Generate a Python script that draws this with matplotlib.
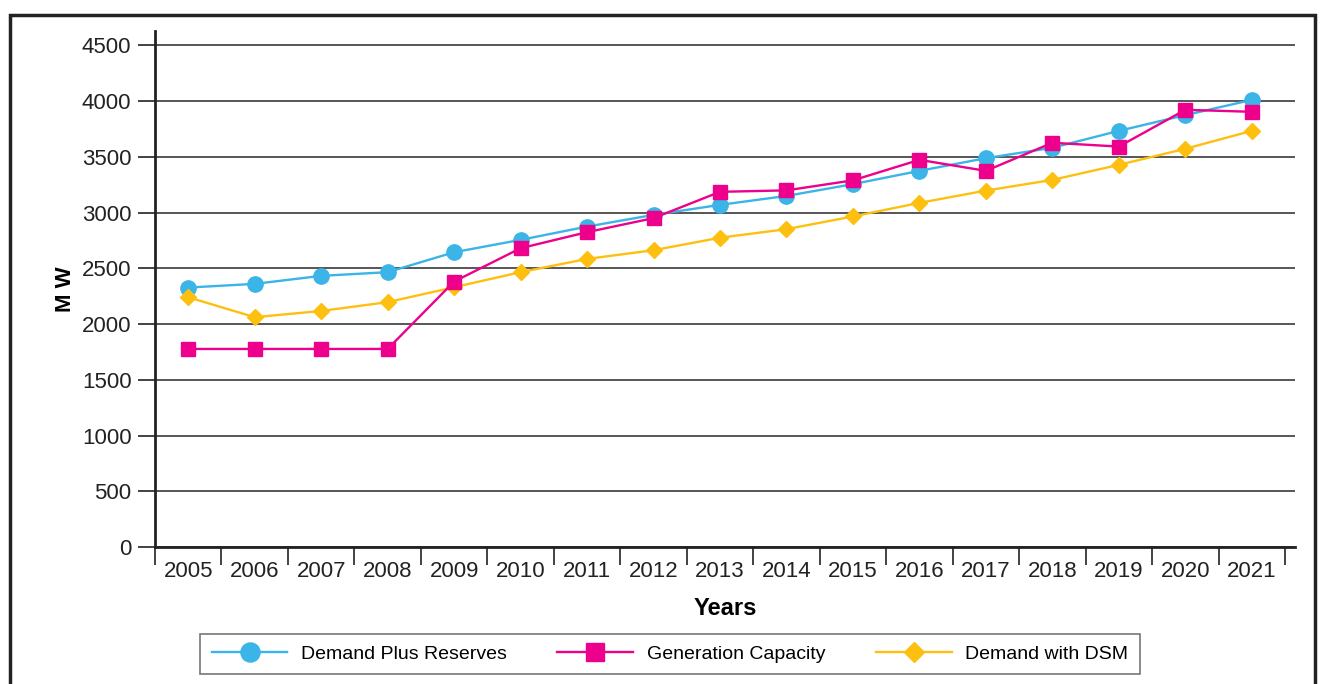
import numpy as np
import matplotlib
matplotlib.use("Agg")
import matplotlib.pyplot as plt
from matplotlib.patches import Rectangle

plt.rcParams['font.family'] = ['Liberation Sans Narrow', 'Liberation Sans', 'DejaVu Sans']

years = [str(y) for y in range(2005, 2022)]
demand_plus_reserves = [2328, 2361, 2433, 2466, 2645, 2756, 2875, 2980, 3070, 3150,
                        3256, 3375, 3489, 3582, 3734, 3875, 4012]
generation_capacity = [1777, 1777, 1777, 1777, 2382, 2681, 2825, 2951, 3187, 3200,
                       3290, 3474, 3375, 3627, 3593, 3923, 3905]
demand_with_dsm = [2241, 2062, 2118, 2197, 2331, 2466, 2585, 2663, 2775, 2852,
                   2966, 3088, 3198, 3294, 3429, 3573, 3734]

fig = plt.figure(figsize=(13.2, 6.84), dpi=100)
ax = fig.add_axes([155/1320, 1 - 547/684, 1140/1320, 516/684])

x = np.arange(len(years))
ax.plot(x, demand_plus_reserves, color='#3BB4E7', lw=1.7, marker='o', ms=11,
        label='Demand Plus Reserves', zorder=3)
ax.plot(x, generation_capacity, color='#EC008C', lw=1.7, marker='s', ms=10,
        label='Generation Capacity', zorder=4)
ax.plot(x, demand_with_dsm, color='#FDC010', lw=1.7, marker='D', ms=8.5,
        label='Demand with DSM', zorder=3)

ax.set_xlim(-0.5, 16.65)
ax.set_ylim(0, 4630)
ax.set_yticks(np.arange(0, 4501, 500))
ax.yaxis.grid(True, color='#3a3a3a', lw=1.2)
ax.set_axisbelow(True)

# ticks sit between the years, labels in the middle
ax.set_xticks(np.arange(-0.5, 17, 1))
ax.set_xticklabels([])
ax.set_xticks(x, minor=True)
ax.set_xticklabels(years, minor=True)
ax.tick_params(axis='x', which='major', length=13, width=1.2, color='#222')
ax.tick_params(axis='x', which='minor', length=0, labelsize=16, pad=10, colors='#222')
ax.tick_params(axis='y', length=12, width=1.2, labelsize=16, pad=5, colors='#222')

for s in ['top', 'right']:
    ax.spines[s].set_visible(False)
ax.spines['left'].set_linewidth(2)
ax.spines['bottom'].set_linewidth(2)
ax.spines['left'].set_color('#222')
ax.spines['bottom'].set_color('#222')

ax.set_xlabel('Years', fontsize=17, fontweight='bold', labelpad=11,
              family=['Liberation Sans', 'DejaVu Sans'])
ax.set_ylabel('M W', fontsize=16, fontweight='bold', labelpad=4,
              family=['Liberation Sans', 'DejaVu Sans'])

leg = fig.legend(loc='center', bbox_to_anchor=(670/1320, 1 - 654/684), ncol=3,
                 fontsize=14, frameon=True, fancybox=False, edgecolor='#555',
                 handlelength=3.9, columnspacing=2.6, handletextpad=0.7,
                 borderpad=0.6, borderaxespad=0, markerscale=1.25)
leg.get_frame().set_linewidth(1.2)

fig.patches.append(Rectangle((10/1320, -0.1), (1315 - 10)/1320, 1.1 - 15/684,
                             transform=fig.transFigure, fill=False,
                             edgecolor='#222', lw=2.5))

fig.savefig('out.png', dpi=100)
